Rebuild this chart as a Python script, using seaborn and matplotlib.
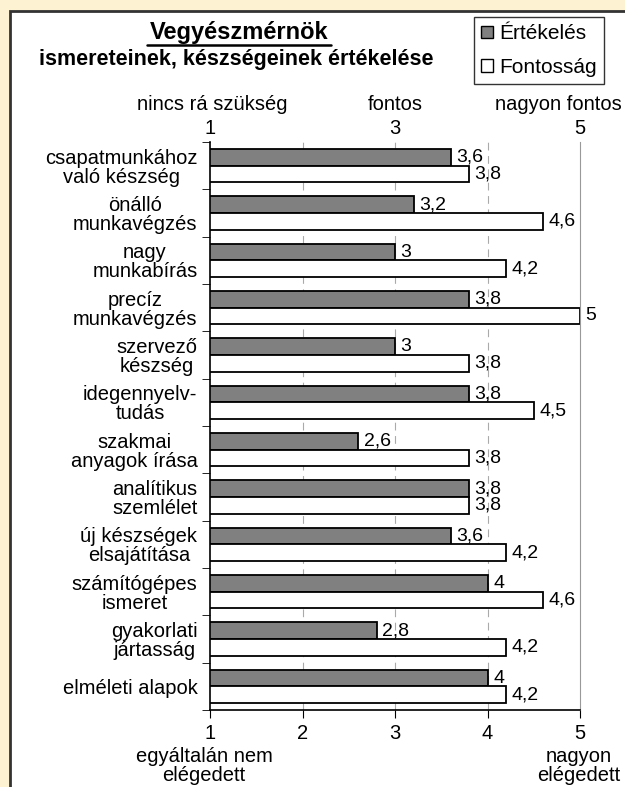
import seaborn as sns
import matplotlib.pyplot as plt
import matplotlib.patches as mpatches
import pandas as pd

categories = ["csapatmunkához\nvaló készség", "önálló\nmunkavégzés", "nagy\nmunkabírás",
              "precíz\nmunkavégzés", "szervező\nkészség", "idegennyelv-\ntudás",
              "szakmai\nanyagok írása", "analítikus\nszemlélet", "új készségek\nelsajátítása",
              "számítógépes\nismeret", "gyakorlati\njártasság", "elméleti alapok"]
ertekeles = [3.6, 3.2, 3.0, 3.8, 3.0, 3.8, 2.6, 3.8, 3.6, 4.0, 2.8, 4.0]
fontossag = [3.8, 4.6, 4.2, 5.0, 3.8, 4.5, 3.8, 3.8, 4.2, 4.6, 4.2, 4.2]
series = ["Értékelés", "Fontosság"]
bottom_ticks = [1, 2, 3, 4, 5]
bottom_words = ["egyáltalán nem\nelégedett", "nagyon\nelégedett"]
top_ticks = [1, 3, 5]
top_words = ["nincs rá szükség", "fontos", "nagyon fontos"]

df = pd.DataFrame({"kategoria": categories * 2,
                   "ertek": ertekeles + fontossag,
                   "sorozat": [series[0]] * len(categories) + [series[1]] * len(categories)})

sns.set_style("white")
plt.rcParams['font.family'] = ['Liberation Sans', 'DejaVu Sans']
plt.rcParams.update({"text.color": "black", "xtick.color": "black",
                     "ytick.color": "black", "axes.labelcolor": "black"})
FS = 14.5

fig = plt.figure(figsize=(6.25, 7.87), dpi=100)
fig.patch.set_facecolor("#fdf3d2")
# white chart frame behind everything
frame = mpatches.Rectangle((10 / 625, -0.05), 1.0, (787 - 11) / 787 + 0.05,
                           transform=fig.transFigure, facecolor="white",
                           edgecolor="#333333", linewidth=2, zorder=-5)
fig.add_artist(frame)

ax = fig.add_axes([210 / 625, 77 / 787, 370 / 625, 568 / 787])
sns.barplot(data=df, y="kategoria", x="ertek", hue="sorozat", orient="h",
            palette={series[0]: "#808080", series[1]: "white"},
            edgecolor="black", linewidth=1.3, width=0.7, ax=ax, legend=False)
ax.set_facecolor("none")

for cont in ax.containers:
    ax.bar_label(cont, labels=[f"{v:g}".replace(".", ",") for v in cont.datavalues],
                 padding=4, fontsize=14)

ax.set_xlim(1, 5)
ax.set_ylim(len(categories) - 0.5, -0.5)
ax.set_xlabel("")
ax.set_ylabel("")
ax.set_xticks(bottom_ticks)
ax.set_xticklabels([str(t) for t in bottom_ticks], fontsize=FS)
ax.tick_params(axis="x", direction="out", length=6, color="black", bottom=True, pad=4)
for x in [2, 3, 4]:
    ax.axvline(x, color="#aaaaaa", linestyle=(0, (7, 5)), linewidth=0.8, zorder=0)

ax.set_yticks(range(len(categories)))
ax.set_yticklabels(categories, fontsize=FS, multialignment="center", linespacing=1.0)
ax.tick_params(axis="y", length=0, pad=9)
ax.set_yticks([i - 0.5 for i in range(len(categories) + 1)], minor=True)
ax.tick_params(axis="y", which="minor", direction="out", length=6, left=True, color="black")

ax.spines["top"].set_visible(False)
ax.spines["left"].set_color("black")
ax.spines["bottom"].set_color("black")
ax.spines["right"].set_color("#999999")
for s in ["left", "bottom"]:
    ax.spines[s].set_linewidth(1.2)

top = ax.secondary_xaxis("top")
top.set_xticks(top_ticks)
top.set_xticklabels([str(t) for t in top_ticks], fontsize=FS)
top.tick_params(length=0, pad=3)
top.spines["top"].set_visible(False)

# words above the top scale and below the bottom scale
fig.text(212 / 625, 1 - 104 / 787, top_words[0], ha="center", va="center", fontsize=FS)
fig.text(395 / 625, 1 - 104 / 787, top_words[1], ha="center", va="center", fontsize=FS)
fig.text(622 / 625, 1 - 104 / 787, top_words[2], ha="right", va="center", fontsize=FS)
fig.text(204 / 625, 1 - 766 / 787, bottom_words[0], ha="center", va="center",
         fontsize=FS, linespacing=1.05)
fig.text(620 / 625, 1 - 766 / 787, bottom_words[1], ha="right", va="center",
         fontsize=FS, linespacing=1.05, multialignment="center")

fig.text(239 / 625, 1 - 33 / 787, "Vegyészmérnök", ha="center", va="center",
         fontsize=17, fontweight="bold")
fig.add_artist(plt.Line2D([147 / 625, 331 / 625], [1 - 45 / 787, 1 - 45 / 787],
                          color="black", linewidth=1.8))
fig.text(236 / 625, 1 - 59 / 787, "ismereteinek, készségeinek értékelése", ha="center",
         va="center", fontsize=15.5, fontweight="bold")

handles = [mpatches.Patch(facecolor="#808080", edgecolor="black", label=series[0]),
           mpatches.Patch(facecolor="white", edgecolor="black", label=series[1])]
leg = fig.legend(handles=handles, loc="upper right", bbox_to_anchor=(604 / 625, 1 - 17 / 787),
                 borderaxespad=0, fontsize=15, frameon=True, fancybox=False,
                 edgecolor="black", handlelength=0.55, handleheight=0.55, handletextpad=0.3,
                 borderpad=0.35, labelspacing=0.7)
leg.get_frame().set_linewidth(1.0)

fig.savefig("out.png", dpi=100, facecolor=fig.get_facecolor())
